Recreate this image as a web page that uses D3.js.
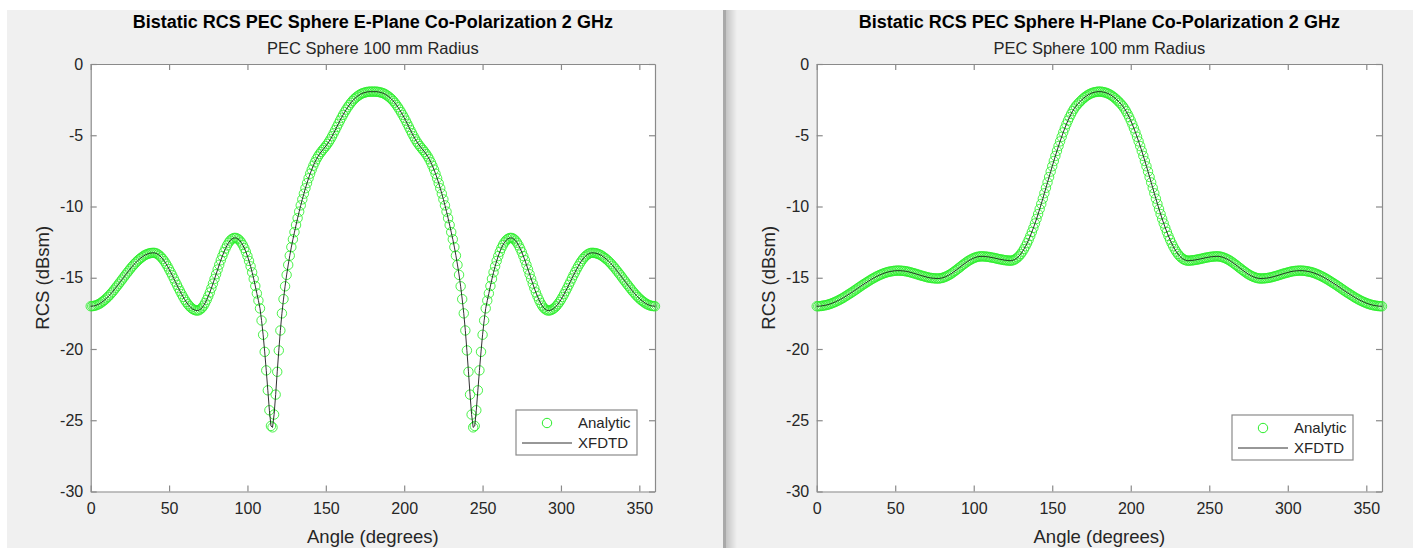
<!DOCTYPE html>
<html><head><meta charset="utf-8">
<script src="https://cdn.jsdelivr.net/npm/d3@7"></script>
<style>
html,body{margin:0;padding:0;background:#fff;}
svg{display:block;font-family:"Liberation Sans",Arial,Helvetica,sans-serif;}
</style>
</head><body>
<svg id="chart" width="1413" height="548"></svg>
<script>
// ---------- data ----------
const angles = d3.range(0, 361); // degrees, 1 degree step
const xTicks = [0, 50, 100, 150, 200, 250, 300, 350];
const yTicks = [0, -5, -10, -15, -20, -25, -30];
const titlesMain = ["Bistatic RCS PEC Sphere E-Plane Co-Polarization 2 GHz",
                    "Bistatic RCS PEC Sphere H-Plane Co-Polarization 2 GHz"];
const subtitle = "PEC Sphere 100 mm Radius";
const xLabel = "Angle (degrees)";
const yLabel = "RCS (dBsm)";
const seriesNames = ["Analytic", "XFDTD"];

// E-plane RCS (dBsm) at 0..360 deg
const analyticE = [
-17.00,-16.99,-16.98,-16.95,-16.91,-16.86,-16.80,-16.72,-16.64,-16.55,
-16.45,-16.34,-16.23,-16.10,-15.98,-15.84,-15.70,-15.56,-15.42,-15.27,
-15.13,-14.98,-14.83,-14.69,-14.55,-14.41,-14.27,-14.15,-14.02,-13.91,
-13.80,-13.70,-13.61,-13.53,-13.45,-13.39,-13.34,-13.30,-13.27,-13.26,
-13.25,-13.26,-13.30,-13.36,-13.45,-13.56,-13.69,-13.84,-14.01,-14.20,
-14.40,-14.61,-14.82,-15.05,-15.28,-15.50,-15.73,-15.94,-16.15,-16.35,
-16.54,-16.71,-16.86,-16.99,-17.10,-17.19,-17.25,-17.29,-17.30,-17.28,
-17.21,-17.11,-16.96,-16.77,-16.55,-16.30,-16.03,-15.73,-15.41,-15.08,
-14.75,-14.42,-14.09,-13.77,-13.48,-13.20,-12.95,-12.73,-12.54,-12.39,
-12.29,-12.22,-12.20,-12.22,-12.28,-12.38,-12.52,-12.70,-12.92,-13.18,
-13.48,-13.82,-14.20,-14.62,-15.08,-15.58,-16.10,-16.60,-17.15,-18.00,
-19.00,-20.20,-21.50,-22.90,-24.30,-25.40,-25.50,-24.60,-23.20,-21.60,
-20.10,-18.70,-17.50,-16.50,-15.60,-14.80,-14.10,-13.45,-12.85,-12.30,
-11.80,-11.30,-10.82,-10.36,-9.92,-9.50,-9.10,-8.72,-8.36,-8.02,
-7.70,-7.41,-7.14,-6.90,-6.68,-6.49,-6.32,-6.17,-6.03,-5.90,
-5.76,-5.61,-5.45,-5.27,-5.07,-4.86,-4.64,-4.42,-4.20,-3.98,
-3.77,-3.57,-3.38,-3.20,-3.03,-2.87,-2.72,-2.59,-2.47,-2.37,
-2.28,-2.20,-2.13,-2.07,-2.03,-2.00,-1.97,-1.95,-1.94,-1.94,
-1.94,-1.94,-1.94,-1.95,-1.97,-2.00,-2.03,-2.07,-2.13,-2.20,
-2.28,-2.37,-2.47,-2.59,-2.72,-2.87,-3.03,-3.20,-3.38,-3.57,
-3.77,-3.98,-4.20,-4.42,-4.64,-4.86,-5.07,-5.27,-5.45,-5.61,
-5.76,-5.90,-6.03,-6.17,-6.32,-6.49,-6.68,-6.90,-7.14,-7.41,
-7.70,-8.02,-8.36,-8.72,-9.10,-9.50,-9.92,-10.36,-10.82,-11.30,
-11.80,-12.30,-12.85,-13.45,-14.10,-14.80,-15.60,-16.50,-17.50,-18.70,
-20.10,-21.60,-23.20,-24.60,-25.50,-25.40,-24.30,-22.90,-21.50,-20.20,
-19.00,-18.00,-17.15,-16.60,-16.10,-15.58,-15.08,-14.62,-14.20,-13.82,
-13.48,-13.18,-12.92,-12.70,-12.52,-12.38,-12.28,-12.22,-12.20,-12.22,
-12.29,-12.39,-12.54,-12.73,-12.95,-13.20,-13.48,-13.77,-14.09,-14.42,
-14.75,-15.08,-15.41,-15.73,-16.03,-16.30,-16.55,-16.77,-16.96,-17.11,
-17.21,-17.28,-17.30,-17.29,-17.25,-17.19,-17.10,-16.99,-16.86,-16.71,
-16.54,-16.35,-16.15,-15.94,-15.73,-15.50,-15.28,-15.05,-14.82,-14.61,
-14.40,-14.20,-14.01,-13.84,-13.69,-13.56,-13.45,-13.36,-13.30,-13.26,
-13.25,-13.26,-13.27,-13.30,-13.34,-13.39,-13.45,-13.53,-13.61,-13.70,
-13.80,-13.91,-14.02,-14.15,-14.27,-14.41,-14.55,-14.69,-14.83,-14.98,
-15.13,-15.27,-15.42,-15.56,-15.70,-15.84,-15.98,-16.10,-16.23,-16.34,
-16.45,-16.55,-16.64,-16.72,-16.80,-16.86,-16.91,-16.95,-16.98,-16.99,
-17.00];
const xfdtdE = analyticE.slice();

// H-plane RCS (dBsm) at 0..360 deg
const analyticH = [
-17.00,-17.00,-16.99,-16.98,-16.96,-16.94,-16.92,-16.89,-16.86,-16.82,
-16.78,-16.73,-16.69,-16.63,-16.58,-16.52,-16.46,-16.40,-16.33,-16.26,
-16.19,-16.12,-16.05,-15.98,-15.90,-15.83,-15.75,-15.67,-15.60,-15.52,
-15.45,-15.38,-15.31,-15.24,-15.17,-15.10,-15.04,-14.98,-14.92,-14.87,
-14.81,-14.77,-14.72,-14.68,-14.64,-14.61,-14.58,-14.56,-14.54,-14.52,
-14.51,-14.50,-14.50,-14.50,-14.51,-14.52,-14.53,-14.55,-14.57,-14.60,
-14.63,-14.66,-14.69,-14.72,-14.76,-14.79,-14.83,-14.86,-14.89,-14.92,
-14.95,-14.98,-15.00,-15.02,-15.03,-15.04,-15.05,-15.05,-15.05,-15.03,
-15.01,-14.97,-14.93,-14.88,-14.82,-14.76,-14.69,-14.61,-14.53,-14.45,
-14.36,-14.28,-14.19,-14.10,-14.02,-13.94,-13.86,-13.79,-13.73,-13.67,
-13.62,-13.58,-13.54,-13.52,-13.50,-13.50,-13.50,-13.51,-13.52,-13.53,
-13.55,-13.57,-13.59,-13.61,-13.64,-13.66,-13.69,-13.71,-13.73,-13.75,
-13.77,-13.78,-13.79,-13.80,-13.80,-13.77,-13.73,-13.66,-13.57,-13.46,
-13.33,-13.17,-12.99,-12.79,-12.57,-12.33,-12.07,-11.79,-11.50,-11.19,
-10.87,-10.53,-10.18,-9.82,-9.45,-9.07,-8.69,-8.31,-7.93,-7.55,
-7.18,-6.81,-6.45,-6.10,-5.76,-5.43,-5.11,-4.80,-4.51,-4.23,
-3.97,-3.73,-3.51,-3.31,-3.13,-2.97,-2.84,-2.72,-2.61,-2.50,
-2.40,-2.31,-2.23,-2.16,-2.10,-2.05,-2.01,-1.98,-1.96,-1.94,
-1.94,-1.94,-1.96,-1.98,-2.01,-2.05,-2.10,-2.16,-2.23,-2.31,
-2.40,-2.50,-2.61,-2.72,-2.84,-2.97,-3.13,-3.31,-3.51,-3.73,
-3.97,-4.23,-4.51,-4.80,-5.11,-5.43,-5.76,-6.10,-6.45,-6.81,
-7.18,-7.55,-7.93,-8.31,-8.69,-9.07,-9.45,-9.82,-10.18,-10.53,
-10.87,-11.19,-11.50,-11.79,-12.07,-12.33,-12.57,-12.79,-12.99,-13.17,
-13.33,-13.46,-13.57,-13.66,-13.73,-13.77,-13.80,-13.80,-13.79,-13.78,
-13.77,-13.75,-13.73,-13.71,-13.69,-13.66,-13.64,-13.61,-13.59,-13.57,
-13.55,-13.53,-13.52,-13.51,-13.50,-13.50,-13.50,-13.52,-13.54,-13.58,
-13.62,-13.67,-13.73,-13.79,-13.86,-13.94,-14.02,-14.10,-14.19,-14.28,
-14.36,-14.45,-14.53,-14.61,-14.69,-14.76,-14.82,-14.88,-14.93,-14.97,
-15.01,-15.03,-15.05,-15.05,-15.05,-15.04,-15.03,-15.02,-15.00,-14.98,
-14.95,-14.92,-14.89,-14.86,-14.83,-14.79,-14.76,-14.72,-14.69,-14.66,
-14.63,-14.60,-14.57,-14.55,-14.53,-14.52,-14.51,-14.50,-14.50,-14.50,
-14.51,-14.52,-14.54,-14.56,-14.58,-14.61,-14.64,-14.68,-14.72,-14.77,
-14.81,-14.87,-14.92,-14.98,-15.04,-15.10,-15.17,-15.24,-15.31,-15.38,
-15.45,-15.52,-15.60,-15.67,-15.75,-15.83,-15.90,-15.98,-16.05,-16.12,
-16.19,-16.26,-16.33,-16.40,-16.46,-16.52,-16.58,-16.63,-16.69,-16.73,
-16.78,-16.82,-16.86,-16.89,-16.92,-16.94,-16.96,-16.98,-16.99,-17.00,
-17.00];
const xfdtdH = analyticH.slice();

// ---------- layout ----------
const svg = d3.select("#chart");
const BG = "#f0f0f0";
const AX = "#8a8a8a";
const TXT = "#262626";

svg.append("rect").attr("x", 7).attr("y", 10).attr("width", 717).attr("height", 538).attr("fill", BG);
svg.append("rect").attr("x", 724).attr("y", 10).attr("width", 689).attr("height", 538).attr("fill", BG);
const defs = svg.append("defs");
const grad = defs.append("linearGradient").attr("id", "shade").attr("x1", "0").attr("x2", "1");
grad.append("stop").attr("offset", "0").attr("stop-color", "#c4c4c4");
grad.append("stop").attr("offset", "1").attr("stop-color", BG);
svg.append("rect").attr("x", 723).attr("y", 10).attr("width", 3).attr("height", 538).attr("fill", "#a9a9a9");
svg.append("rect").attr("x", 726).attr("y", 10).attr("width", 11).attr("height", 538).attr("fill", "url(#shade)");

const panels = [
  {x0: 90.7, x1: 655, y0: 64, y1: 491.5, title: titlesMain[0], a: analyticE, f: xfdtdE,
   leg: {x: 516, y: 410, w: 121, h: 45}},
  {x0: 816.7, x1: 1382, y0: 64, y1: 491.5, title: titlesMain[1], a: analyticH, f: xfdtdH,
   leg: {x: 1232, y: 415, w: 121, h: 45}}
];

panels.forEach(p => {
  const x = d3.scaleLinear().domain([0, 360]).range([p.x0, p.x1]);
  const y = d3.scaleLinear().domain([-30, 0]).range([p.y1, p.y0]);
  const g = svg.append("g");

  g.append("rect").attr("x", p.x0).attr("y", p.y0)
    .attr("width", p.x1 - p.x0).attr("height", p.y1 - p.y0).attr("fill", "#fff");

  const fmt = d => String(d);
  const styleAxis = sel => {
    sel.select(".domain").attr("stroke", AX).attr("stroke-width", 1.2);
    sel.selectAll(".tick line").attr("stroke", AX).attr("stroke-width", 1.2);
    sel.selectAll(".tick text").attr("fill", TXT).style("font-size", "16px")
      .style("font-family", '"Liberation Sans",Arial,sans-serif');
  };
  g.append("g").attr("transform", `translate(0,${p.y1})`)
    .call(d3.axisBottom(x).tickValues(xTicks).tickFormat(fmt).tickSizeInner(-6).tickSizeOuter(0).tickPadding(11))
    .call(styleAxis);
  g.append("g").attr("transform", `translate(0,${p.y0})`)
    .call(d3.axisTop(x).tickValues(xTicks).tickFormat("").tickSizeInner(-6).tickSizeOuter(0))
    .call(styleAxis);
  g.append("g").attr("transform", `translate(${p.x0},0)`)
    .call(d3.axisLeft(y).tickValues(yTicks).tickFormat(fmt).tickSizeInner(-6).tickSizeOuter(0).tickPadding(7.5))
    .call(styleAxis);
  g.append("g").attr("transform", `translate(${p.x1},0)`)
    .call(d3.axisRight(y).tickValues(yTicks).tickFormat("").tickSizeInner(-6).tickSizeOuter(0))
    .call(styleAxis);

  g.append("g").selectAll("circle").data(angles).join("circle")
    .attr("cx", d => x(d)).attr("cy", (d, i) => y(p.a[i])).attr("r", 4.7)
    .attr("fill", "none").attr("stroke", "#2aee2a").attr("stroke-width", 1).attr("stroke-opacity", 0.85);

  const line = d3.line().x(d => x(d)).y((d, i) => y(p.f[i]));
  g.append("path").datum(angles).attr("d", line)
    .attr("fill", "none").attr("stroke", "#1a1a1a").attr("stroke-width", 0.9);

  const cx = (p.x0 + p.x1) / 2;
  g.append("text").attr("x", cx).attr("y", 28).attr("text-anchor", "middle")
    .attr("font-weight", "bold").attr("font-size", 18).attr("fill", "#000").text(p.title);
  g.append("text").attr("x", cx).attr("y", 54).attr("text-anchor", "middle")
    .attr("font-size", 16.5).attr("fill", TXT).text(subtitle);
  g.append("text").attr("x", cx).attr("y", 543).attr("text-anchor", "middle")
    .attr("font-size", 18.5).attr("fill", TXT).text(xLabel);
  g.append("text").attr("transform", `translate(${p.x0 - 42},${(p.y0 + p.y1) / 2}) rotate(-90)`)
    .attr("text-anchor", "middle").attr("font-size", 18.5).attr("fill", TXT).text(yLabel);

  const L = p.leg;
  const lg = g.append("g");
  lg.append("rect").attr("x", L.x).attr("y", L.y).attr("width", L.w).attr("height", L.h)
    .attr("fill", "#fff").attr("stroke", AX).attr("stroke-width", 1.2);
  lg.append("circle").attr("cx", L.x + 31).attr("cy", L.y + 13).attr("r", 4.7)
    .attr("fill", "none").attr("stroke", "#2aee2a").attr("stroke-width", 1);
  lg.append("line").attr("x1", L.x + 6).attr("x2", L.x + 56).attr("y1", L.y + 33).attr("y2", L.y + 33)
    .attr("stroke", "#1a1a1a").attr("stroke-width", 0.9);
  lg.append("text").attr("x", L.x + 62).attr("y", L.y + 13).attr("dy", "0.35em")
    .attr("font-size", 15).attr("fill", TXT).text(seriesNames[0]);
  lg.append("text").attr("x", L.x + 62).attr("y", L.y + 33).attr("dy", "0.35em")
    .attr("font-size", 15).attr("fill", TXT).text(seriesNames[1]);
});
</script>
</body></html>
